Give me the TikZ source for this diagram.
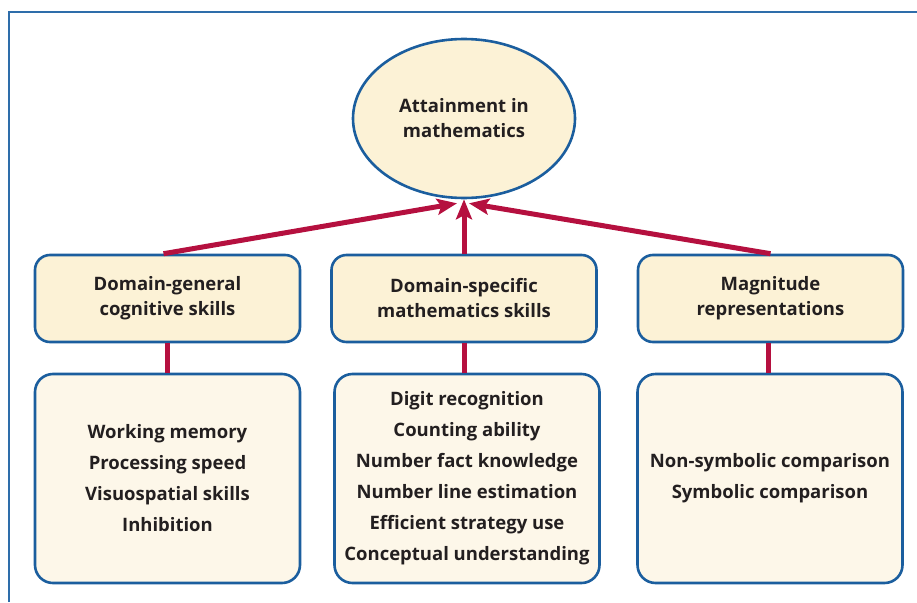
\documentclass[tikz,border=0pt]{standalone}
\usepackage{fontspec}
\setmainfont{Open Sans}
\usetikzlibrary{arrows.meta, positioning, calc, shapes.geometric}
\definecolor{mtAzul}{HTML}{1B5E9E}
\definecolor{mtMoldura}{HTML}{2E6DAA}
\definecolor{mtCreme}{HTML}{FCF2D6}
\definecolor{mtClaro}{HTML}{FDF7E9}
\definecolor{mtVermelho}{HTML}{B5103F}
\definecolor{mtTexto}{HTML}{231F20}

\begin{document}
\begin{tikzpicture}[x=1pt, y=-1pt]
  \tikzset{
    caixa/.style={rectangle, rounded corners=15pt, draw=mtAzul, line width=2.6pt,
                  fill=mtCreme, minimum width=265pt, minimum height=87pt,
                  align=center, text=mtTexto,
                  font=\fontsize{18.5}{25}\selectfont\bfseries},
    lista/.style={caixa, rounded corners=18pt, fill=mtClaro, minimum height=209pt,
                  font=\fontsize{18.5}{31}\selectfont\bfseries},
    seta/.style={-{Stealth[length=20pt, width=16pt, inset=4pt]},
                 draw=mtVermelho, line width=5pt},
    liga/.style={draw=mtVermelho, line width=5pt}}
  \useasboundingbox (0,0) rectangle (917,602);
  \draw[mtMoldura, line width=2.5pt] (9,602) -- (9,12) -- (917,12);
  % objetivo
  \node[ellipse, draw=mtAzul, line width=2.6pt, fill=mtCreme, minimum width=222pt,
        minimum height=159pt, inner sep=0pt, align=center, text=mtTexto,
        font=\fontsize{18.5}{25}\selectfont\bfseries] (alvo) at (464,118.5)
        {Attainment in\\mathematics};
  % habilidades
  \node[caixa] (geral) at (167.5,298.5) {Domain-general\\cognitive skills};
  \node[caixa] (espec) at (464,298.5) {Domain-specific\\mathematics skills};
  \node[caixa] (magn) at (770.5,298.5) {Magnitude\\representations};
  \node[lista] (lgeral) at (167.5,478.5)
    {Working memory\\Processing speed\\Visuospatial skills\\Inhibition};
  \node[lista] (lespec) at (467,478.5)
    {Digit recognition\\Counting ability\\Number fact knowledge\\Number line estimation\\Efficient strategy use\\Conceptual understanding};
  \node[lista] (lmagn) at (770,478.5)
    {Non-symbolic comparison\\Symbolic comparison};
  \coordinate (pontaE) at ($(alvo.south)+(-7,4)$);
  \coordinate (pontaD) at ($(alvo.south)+(5,4)$);
  \draw[seta] ([xshift=-4pt]geral.north) -- (pontaE);
  \draw[seta] (espec.north) -- (alvo.south);
  \draw[seta] (magn.north) -- (pontaD);
  \draw[liga] (geral.south) -- (lgeral.north);
  \draw[liga] (espec.south) -- (espec.south |- lespec.north);
  \draw[liga] ([xshift=-2pt]magn.south) -- ([xshift=-2pt]magn.south |- lmagn.north);
\end{tikzpicture}
\end{document}
